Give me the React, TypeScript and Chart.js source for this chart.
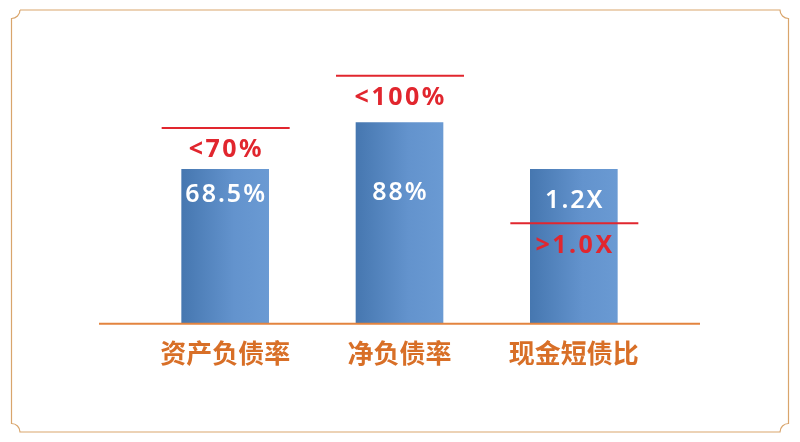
import { useEffect, useRef } from "react";
import { Chart, registerables } from "chart.js";
import type { Plugin } from "chart.js";

Chart.register(...registerables);

const categories = ["资产负债率", "净负债率", "现金短债比"];
const valueLabels = ["68.5%", "88%", "1.2X"];
// drawn bar heights on the picture's schematic axis (bar 2 = 88)
const barHeights = [67.5, 88, 67.5];
const limitLabels = ["<70%", "<100%", ">1.0X"];
const limitLevels = [85.6, 108.4, 44];

const RED = "#e1262e";
const ORANGE = "#d86f27";

const framePlugin: Plugin<"bar"> = {
  id: "frame",
  beforeDraw(chart) {
    const { ctx } = chart;
    const l = 11.5, t = 10, r = 788.5, b = 432, rad = 8.5;
    ctx.save();
    ctx.strokeStyle = "#d9a56c";
    ctx.lineWidth = 1.2;
    ctx.beginPath();
    ctx.moveTo(l + rad, t);
    ctx.lineTo(r - rad, t);
    ctx.arc(r, t, rad, Math.PI, Math.PI / 2, true);
    ctx.lineTo(r, b - rad);
    ctx.arc(r, b, rad, -Math.PI / 2, Math.PI, true);
    ctx.lineTo(l + rad, b);
    ctx.arc(l, b, rad, 0, -Math.PI / 2, true);
    ctx.lineTo(l, t + rad);
    ctx.arc(l, t, rad, Math.PI / 2, 0, true);
    ctx.stroke();
    ctx.restore();
  },
};

const marksPlugin: Plugin<"bar"> = {
  id: "marks",
  afterDatasetsDraw(chart) {
    const { ctx, chartArea } = chart;
    const yScale = chart.scales.y;
    const meta = chart.getDatasetMeta(0);

    // base line, wider than the plot area
    ctx.save();
    ctx.strokeStyle = "#e3843f";
    ctx.lineWidth = 2;
    ctx.beginPath();
    ctx.moveTo(chartArea.left - 39, chartArea.bottom);
    ctx.lineTo(chartArea.right + 39, chartArea.bottom);
    ctx.stroke();

    const valueNudge = [0, -2.5, 6];
    meta.data.forEach((bar, i) => {
      const { x, width } = bar.getProps(["x", "width"], true) as { x: number; width: number };

      // value inside bar
      ctx.fillStyle = "#ffffff";
      ctx.font = "600 25px 'Noto Sans'";
      (ctx as any).letterSpacing = "2px";
      ctx.textAlign = "center";
      ctx.textBaseline = "alphabetic";
      ctx.fillText(valueLabels[i], x + 1, chartArea.bottom - 121.5 + valueNudge[i]);

      // limit line + text
      const ly = yScale.getPixelForValue(limitLevels[i]);
      ctx.strokeStyle = RED;
      ctx.lineWidth = 2;
      ctx.beginPath();
      ctx.moveTo(x - width / 2 - 20, ly);
      ctx.lineTo(x + width / 2 + 21, ly);
      ctx.stroke();

      ctx.fillStyle = RED;
      ctx.font = "bold 25px 'Noto Sans'";
      (ctx as any).letterSpacing = "2.5px";
      ctx.fillText(limitLabels[i], x + 1.25, ly + 29.5);
    });
    (ctx as any).letterSpacing = "0px";
    ctx.restore();
  },
};

export default function App() {
  const canvasRef = useRef<HTMLCanvasElement | null>(null);
  const chartRef = useRef<Chart<"bar"> | null>(null);

  useEffect(() => {
    document.body.style.margin = "0";
    if (!canvasRef.current) return;
    chartRef.current = new Chart(canvasRef.current, {
      type: "bar",
      data: {
        labels: categories,
        datasets: [
          {
            data: barHeights,
            barThickness: 87,
            backgroundColor: (c) => {
              const chart = c.chart;
              const xs = chart.scales.x;
              if (!xs || c.dataIndex === undefined) return "#5a8bc4";
              const cx = xs.getPixelForValue(c.dataIndex);
              if (!Number.isFinite(cx)) return "#5a8bc4";
              const g = chart.ctx.createLinearGradient(cx - 43.5, 0, cx + 43.5, 0);
              g.addColorStop(0, "#4677b0");
              g.addColorStop(0.6, "#6393cd");
              g.addColorStop(1, "#6a9ad3");
              return g;
            },
            borderWidth: 0,
          },
        ],
      },
      options: {
        responsive: true,
        maintainAspectRatio: false,
        animation: false,
        layout: { padding: { left: 138, right: 139, top: 49.3, bottom: 67 } },
        plugins: {
          legend: { display: false },
          tooltip: { enabled: false },
        },
        scales: {
          x: {
            grid: { display: false },
            border: { display: false },
            ticks: {
              color: ORANGE,
              padding: 6,
              font: { family: "'Noto Sans CJK SC'", size: 26, weight: "bold" },
            },
          },
          y: {
            display: false,
            min: 0,
            max: 120,
          },
        },
      },
      plugins: [framePlugin, marksPlugin],
    });

    return () => {
      chartRef.current?.destroy();
      chartRef.current = null;
    };
  }, []);

  return (
    <div style={{ position: "relative", width: 800, height: 442, background: "#ffffff" }}>
      <canvas ref={canvasRef} />
    </div>
  );
}
